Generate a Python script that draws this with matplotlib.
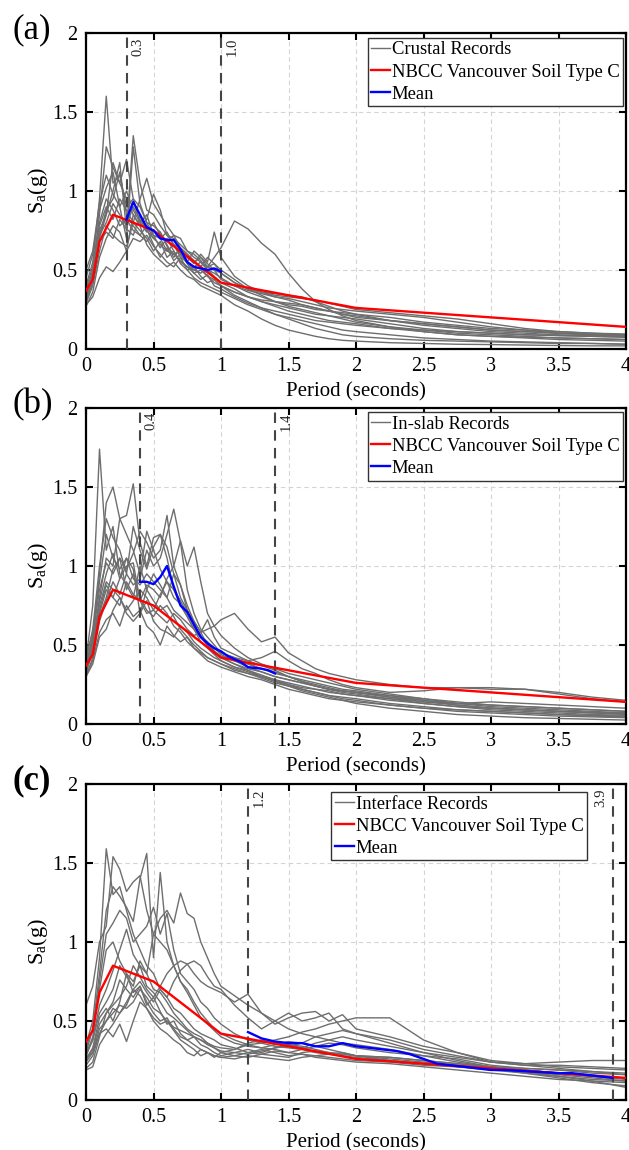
"""Response spectra of the selected ground motions vs NBCC Vancouver (Soil C).

Three panels: (a) crustal, (b) in-slab, (c) interface records, each with
the NBCC target spectrum, the mean over the scaling range, and the range
bounds marked as dashed lines.
"""
import matplotlib
matplotlib.use('Agg')
import matplotlib.pyplot as plt
from matplotlib.ticker import MultipleLocator, FuncFormatter

plt.rcParams['font.family'] = ['Liberation Serif', 'DejaVu Serif']
plt.rcParams['mathtext.fontset'] = 'custom'
plt.rcParams['mathtext.rm'] = 'Liberation Serif'
plt.rcParams['mathtext.it'] = 'Liberation Serif:italic'

# ── periods the record spectra are read at ──
PERIOD = [0.0, 0.05, 0.1, 0.15, 0.2, 0.25, 0.3, 0.35, 0.4, 0.45, 0.5, 0.55,
          0.6, 0.65, 0.7, 0.75, 0.8, 0.85, 0.9, 0.95, 1.0, 1.1, 1.2, 1.3,
          1.4, 1.5, 1.6, 1.7, 1.8, 1.9, 2.0, 2.25, 2.5, 2.75, 3.0, 3.25,
          3.5, 3.75, 4.0]

# ── NBCC 2015 Vancouver, site class C ──
NBCC_T = [0.0, 0.05, 0.1, 0.2, 0.5, 1.0, 2.0, 5.0]
NBCC_SA = [0.37, 0.44, 0.68, 0.85, 0.75, 0.42, 0.26, 0.08]

# ── (a) crustal ──
CRUSTAL = [
    [0.40, 0.55, 0.95, 1.60, 1.05, 1.10, 0.90, 0.95, 0.80, 0.85, 0.72, 0.70, 0.62, 0.66, 0.58, 0.55, 0.52, 0.55, 0.50, 0.46,
     0.42, 0.38, 0.33, 0.30, 0.27, 0.24, 0.22, 0.20, 0.18, 0.17, 0.16, 0.13, 0.11, 0.09, 0.08, 0.07, 0.06, 0.055, 0.05],
    [0.35, 0.50, 0.85, 1.28, 1.15, 1.05, 1.20, 0.95, 0.90, 0.80, 0.78, 0.74, 0.65, 0.60, 0.62, 0.55, 0.50, 0.52, 0.46, 0.44,
     0.40, 0.36, 0.33, 0.30, 0.28, 0.26, 0.24, 0.22, 0.21, 0.20, 0.19, 0.16, 0.13, 0.11, 0.10, 0.09, 0.085, 0.08, 0.075],
    [0.30, 0.42, 0.70, 0.85, 1.00, 1.18, 0.75, 1.35, 1.05, 0.88, 0.85, 0.78, 0.72, 0.66, 0.64, 0.60, 0.55, 0.58, 0.52, 0.50,
     0.48, 0.42, 0.38, 0.36, 0.35, 0.34, 0.33, 0.30, 0.27, 0.24, 0.22, 0.18, 0.15, 0.13, 0.11, 0.10, 0.09, 0.085, 0.08],
    [0.32, 0.45, 0.72, 0.80, 0.92, 0.85, 0.78, 0.90, 0.82, 0.75, 0.70, 0.66, 0.62, 0.60, 0.56, 0.52, 0.50, 0.48, 0.52, 0.58,
     0.64, 0.81, 0.76, 0.67, 0.60, 0.48, 0.38, 0.30, 0.25, 0.21, 0.18, 0.14, 0.11, 0.09, 0.08, 0.075, 0.07, 0.065, 0.06],
    [0.28, 0.33, 0.45, 0.52, 0.49, 0.55, 0.62, 0.70, 0.68, 0.72, 0.65, 0.60, 0.55, 0.52, 0.58, 0.50, 0.45, 0.42, 0.40, 0.38,
     0.36, 0.32, 0.28, 0.25, 0.22, 0.20, 0.18, 0.16, 0.14, 0.12, 0.11, 0.09, 0.07, 0.06, 0.05, 0.045, 0.04, 0.035, 0.03],
    [0.36, 0.48, 0.78, 0.90, 0.82, 0.95, 0.88, 0.80, 0.95, 1.08, 0.92, 0.85, 0.78, 0.72, 0.70, 0.62, 0.60, 0.56, 0.50, 0.48,
     0.45, 0.40, 0.36, 0.33, 0.30, 0.28, 0.27, 0.25, 0.24, 0.23, 0.22, 0.20, 0.17, 0.15, 0.13, 0.12, 0.11, 0.10, 0.09],
    [0.33, 0.46, 0.75, 0.85, 1.18, 1.05, 0.95, 0.85, 0.78, 0.82, 0.98, 0.88, 0.72, 0.70, 0.66, 0.62, 0.58, 0.55, 0.52, 0.54,
     0.50, 0.44, 0.38, 0.34, 0.30, 0.27, 0.25, 0.23, 0.21, 0.19, 0.17, 0.14, 0.12, 0.10, 0.09, 0.08, 0.07, 0.065, 0.06],
    [0.38, 0.52, 0.80, 0.95, 0.88, 0.78, 0.82, 0.75, 0.72, 0.68, 0.75, 0.70, 0.74, 0.66, 0.60, 0.55, 0.62, 0.58, 0.54, 0.50,
     0.44, 0.40, 0.37, 0.35, 0.33, 0.32, 0.30, 0.28, 0.26, 0.25, 0.24, 0.22, 0.20, 0.17, 0.14, 0.12, 0.10, 0.09, 0.085],
    [0.29, 0.40, 0.62, 0.78, 0.72, 0.68, 0.65, 0.80, 0.75, 0.70, 0.62, 0.68, 0.58, 0.62, 0.54, 0.50, 0.52, 0.46, 0.42, 0.44,
     0.40, 0.34, 0.30, 0.26, 0.22, 0.19, 0.16, 0.13, 0.11, 0.09, 0.08, 0.065, 0.055, 0.05, 0.045, 0.04, 0.035, 0.035, 0.03],
    [0.45, 0.60, 0.88, 1.02, 1.12, 0.90, 0.70, 1.28, 0.92, 0.80, 0.72, 0.64, 0.70, 0.62, 0.55, 0.52, 0.48, 0.50, 0.46, 0.42,
     0.40, 0.36, 0.33, 0.31, 0.30, 0.29, 0.28, 0.26, 0.24, 0.22, 0.20, 0.18, 0.16, 0.14, 0.12, 0.11, 0.10, 0.09, 0.085],
    [0.31, 0.44, 0.68, 0.74, 0.70, 0.82, 0.76, 0.72, 0.84, 0.76, 0.66, 0.58, 0.64, 0.56, 0.60, 0.54, 0.48, 0.44, 0.47, 0.40,
     0.38, 0.33, 0.29, 0.26, 0.24, 0.22, 0.20, 0.18, 0.17, 0.16, 0.15, 0.13, 0.12, 0.11, 0.10, 0.09, 0.085, 0.08, 0.075],
    [0.34, 0.47, 0.72, 0.88, 0.95, 1.12, 0.85, 0.78, 0.72, 0.78, 0.70, 0.74, 0.66, 0.58, 0.64, 0.58, 0.54, 0.60, 0.55, 0.74,
     0.58, 0.46, 0.40, 0.36, 0.33, 0.31, 0.28, 0.26, 0.24, 0.22, 0.21, 0.18, 0.16, 0.14, 0.12, 0.11, 0.10, 0.095, 0.09],
    [0.27, 0.36, 0.58, 0.70, 0.78, 0.74, 0.62, 0.85, 0.78, 0.66, 0.60, 0.56, 0.52, 0.55, 0.50, 0.46, 0.44, 0.40, 0.38, 0.36,
     0.34, 0.28, 0.24, 0.19, 0.15, 0.12, 0.10, 0.08, 0.065, 0.055, 0.05, 0.04, 0.035, 0.03, 0.028, 0.025, 0.022, 0.02, 0.02],
    [0.50, 0.62, 0.92, 1.10, 0.98, 0.90, 1.00, 0.88, 0.80, 0.74, 0.80, 0.72, 0.68, 0.72, 0.64, 0.60, 0.56, 0.52, 0.58, 0.54,
     0.48, 0.42, 0.38, 0.36, 0.34, 0.33, 0.32, 0.31, 0.29, 0.27, 0.25, 0.23, 0.21, 0.19, 0.16, 0.13, 0.11, 0.10, 0.095],
]
MEAN_A_T = [0.30, 0.35, 0.40, 0.45, 0.50, 0.55, 0.60, 0.65, 0.70, 0.75, 0.80, 0.85, 0.90, 0.95, 1.00]
MEAN_A_SA = [0.82, 0.93, 0.85, 0.77, 0.75, 0.70, 0.69, 0.69, 0.63, 0.55, 0.52, 0.51, 0.50, 0.51, 0.49]

# ── (b) in-slab ──
INSLAB = [
    [0.40, 0.75, 1.74, 1.10, 1.25, 0.95, 0.88, 0.80, 1.00, 0.85, 0.78, 0.72, 0.75, 0.68, 0.60, 0.55, 0.50, 0.46, 0.42, 0.40,
     0.38, 0.35, 0.32, 0.30, 0.28, 0.25, 0.22, 0.20, 0.18, 0.17, 0.16, 0.13, 0.11, 0.09, 0.08, 0.07, 0.06, 0.055, 0.05],
    [0.35, 0.55, 0.95, 1.40, 1.50, 1.30, 1.20, 1.10, 0.95, 1.22, 1.10, 0.98, 0.90, 0.80, 0.76, 0.68, 0.60, 0.55, 0.50, 0.45,
     0.42, 0.38, 0.34, 0.31, 0.28, 0.26, 0.24, 0.22, 0.20, 0.19, 0.18, 0.15, 0.13, 0.11, 0.10, 0.09, 0.08, 0.075, 0.07],
    [0.32, 0.48, 0.80, 1.05, 1.00, 1.30, 1.32, 1.52, 1.15, 1.00, 1.18, 1.20, 1.12, 0.95, 0.80, 0.72, 0.65, 0.58, 0.50, 0.46,
     0.43, 0.40, 0.38, 0.35, 0.33, 0.30, 0.28, 0.26, 0.24, 0.22, 0.21, 0.18, 0.15, 0.12, 0.10, 0.09, 0.08, 0.07, 0.06],
    [0.30, 0.42, 0.65, 0.78, 0.90, 0.82, 0.95, 0.88, 0.92, 1.10, 1.00, 1.05, 1.20, 1.36, 1.15, 0.85, 0.70, 0.60, 0.55, 0.50,
     0.45, 0.42, 0.38, 0.35, 0.32, 0.30, 0.27, 0.25, 0.23, 0.21, 0.20, 0.17, 0.14, 0.12, 0.10, 0.09, 0.08, 0.07, 0.065],
    [0.38, 0.55, 0.85, 1.02, 0.95, 1.05, 0.98, 1.08, 1.22, 1.15, 1.05, 1.10, 1.32, 1.00, 0.88, 0.72, 0.62, 0.55, 0.52, 0.46,
     0.42, 0.38, 0.35, 0.33, 0.30, 0.28, 0.26, 0.24, 0.22, 0.21, 0.20, 0.18, 0.16, 0.14, 0.12, 0.11, 0.10, 0.09, 0.08],
    [0.34, 0.48, 0.70, 0.85, 0.80, 0.75, 0.90, 0.82, 0.78, 0.88, 0.85, 0.80, 0.92, 1.00, 1.16, 1.00, 1.12, 0.90, 0.70, 0.62,
     0.56, 0.48, 0.42, 0.38, 0.35, 0.32, 0.30, 0.28, 0.26, 0.24, 0.22, 0.19, 0.16, 0.13, 0.11, 0.10, 0.09, 0.08, 0.07],
    [0.31, 0.40, 0.58, 0.66, 0.70, 0.62, 0.75, 0.68, 0.72, 0.62, 0.58, 0.50, 0.62, 0.56, 0.52, 0.55, 0.48, 0.45, 0.42, 0.40,
     0.38, 0.34, 0.32, 0.29, 0.26, 0.24, 0.22, 0.20, 0.18, 0.16, 0.15, 0.12, 0.10, 0.08, 0.07, 0.06, 0.05, 0.045, 0.04],
    [0.36, 0.50, 0.75, 0.90, 0.85, 0.80, 0.72, 0.78, 0.85, 0.80, 0.72, 0.68, 0.64, 0.70, 0.66, 0.60, 0.56, 0.58, 0.60, 0.62,
     0.66, 0.70, 0.60, 0.52, 0.55, 0.45, 0.40, 0.35, 0.32, 0.30, 0.28, 0.25, 0.23, 0.23, 0.22, 0.22, 0.19, 0.16, 0.14],
    [0.42, 0.58, 0.90, 1.20, 1.05, 0.98, 1.05, 0.92, 0.88, 0.95, 0.90, 0.85, 0.80, 0.72, 0.68, 0.64, 0.60, 0.55, 0.50, 0.48,
     0.45, 0.42, 0.40, 0.42, 0.46, 0.40, 0.35, 0.32, 0.28, 0.25, 0.23, 0.20, 0.21, 0.23, 0.23, 0.22, 0.20, 0.17, 0.15],
    [0.33, 0.45, 0.68, 0.80, 0.98, 1.05, 0.85, 0.95, 0.80, 0.72, 0.68, 0.75, 0.70, 0.62, 0.58, 0.52, 0.48, 0.44, 0.40, 0.38,
     0.36, 0.33, 0.30, 0.28, 0.25, 0.22, 0.20, 0.18, 0.16, 0.15, 0.14, 0.12, 0.10, 0.09, 0.08, 0.07, 0.06, 0.05, 0.045],
    [0.37, 0.52, 0.78, 0.95, 1.08, 0.92, 1.00, 1.02, 0.78, 0.70, 0.72, 0.82, 0.90, 0.85, 0.75, 0.68, 0.60, 0.52, 0.48, 0.44,
     0.40, 0.36, 0.34, 0.30, 0.27, 0.25, 0.23, 0.22, 0.21, 0.19, 0.18, 0.16, 0.14, 0.13, 0.14, 0.13, 0.12, 0.11, 0.10],
    [0.30, 0.38, 0.55, 0.60, 0.72, 0.80, 0.70, 0.65, 0.70, 0.78, 0.65, 0.60, 0.58, 0.55, 0.62, 0.58, 0.52, 0.48, 0.45, 0.42,
     0.40, 0.36, 0.33, 0.30, 0.27, 0.24, 0.21, 0.19, 0.17, 0.15, 0.13, 0.10, 0.08, 0.06, 0.05, 0.04, 0.035, 0.03, 0.025],
    [0.40, 0.60, 1.00, 1.30, 1.18, 1.10, 0.95, 1.25, 1.10, 0.98, 1.12, 1.20, 1.05, 0.85, 0.78, 0.70, 0.62, 0.56, 0.52, 0.48,
     0.44, 0.40, 0.36, 0.33, 0.30, 0.28, 0.26, 0.24, 0.22, 0.21, 0.20, 0.17, 0.15, 0.13, 0.12, 0.11, 0.10, 0.09, 0.08],
    [0.35, 0.48, 0.72, 0.88, 0.80, 0.92, 1.05, 0.98, 0.70, 0.85, 0.95, 0.88, 0.80, 0.95, 0.88, 0.75, 0.65, 0.58, 0.66, 0.55,
     0.48, 0.44, 0.40, 0.37, 0.34, 0.30, 0.27, 0.24, 0.22, 0.20, 0.19, 0.16, 0.13, 0.11, 0.09, 0.08, 0.07, 0.06, 0.055],
]
MEAN_B_T = [0.40, 0.45, 0.50, 0.55, 0.60, 0.65, 0.70, 0.75, 0.80, 0.85, 0.90, 0.95, 1.00, 1.05, 1.10, 1.15, 1.20,
            1.25, 1.30, 1.35, 1.40]
MEAN_B_SA = [0.90, 0.90, 0.885, 0.93, 1.00, 0.87, 0.75, 0.71, 0.63, 0.55, 0.51, 0.48, 0.46, 0.43, 0.41, 0.39, 0.36,
             0.355, 0.35, 0.34, 0.32]

# ── (c) interface ──
INTERFACE = [
    [0.35, 0.50, 0.90, 1.59, 1.30, 1.35, 1.20, 1.05, 0.95, 0.85, 0.80, 0.70, 0.65, 0.58, 0.55, 0.50, 0.45, 0.42, 0.40, 0.38,
     0.35, 0.33, 0.30, 0.32, 0.30, 0.28, 0.29, 0.27, 0.26, 0.25, 0.24, 0.23, 0.21, 0.19, 0.17, 0.15, 0.13, 0.12, 0.11],
    [0.60, 0.72, 1.00, 1.10, 1.54, 1.46, 1.32, 1.38, 1.42, 1.20, 1.05, 1.00, 0.95, 0.85, 0.75, 0.70, 0.62, 0.55, 0.50, 0.45,
     0.42, 0.38, 0.35, 0.33, 0.32, 0.30, 0.29, 0.28, 0.27, 0.26, 0.25, 0.24, 0.22, 0.21, 0.20, 0.19, 0.17, 0.15, 0.14],
    [0.30, 0.45, 0.80, 1.20, 1.35, 1.29, 1.22, 1.13, 1.40, 1.56, 0.90, 1.44, 1.00, 0.85, 0.75, 0.68, 0.60, 0.52, 0.48, 0.44,
     0.40, 0.36, 0.34, 0.33, 0.35, 0.37, 0.36, 0.34, 0.32, 0.30, 0.28, 0.27, 0.25, 0.23, 0.21, 0.20, 0.19, 0.17, 0.16],
    [0.28, 0.38, 0.55, 0.62, 0.70, 0.85, 0.78, 0.72, 0.88, 0.80, 1.05, 1.15, 1.20, 1.12, 1.31, 1.18, 1.15, 1.00, 0.90, 0.80,
     0.72, 0.66, 0.60, 0.55, 0.50, 0.45, 0.42, 0.40, 0.38, 0.36, 0.35, 0.32, 0.28, 0.24, 0.21, 0.19, 0.17, 0.15, 0.13],
    [0.25, 0.32, 0.48, 0.55, 0.60, 0.65, 0.72, 0.85, 0.78, 0.70, 0.65, 0.72, 0.80, 0.85, 0.88, 0.86, 0.80, 0.75, 0.72, 0.70,
     0.68, 0.62, 0.67, 0.55, 0.48, 0.52, 0.55, 0.56, 0.50, 0.54, 0.45, 0.40, 0.34, 0.30, 0.25, 0.23, 0.21, 0.20, 0.19],
    [0.22, 0.28, 0.42, 0.50, 0.55, 0.60, 0.58, 0.62, 0.70, 0.65, 0.58, 0.55, 0.50, 0.46, 0.44, 0.42, 0.40, 0.38, 0.36, 0.34,
     0.33, 0.32, 0.35, 0.36, 0.38, 0.40, 0.43, 0.45, 0.48, 0.50, 0.52, 0.52, 0.38, 0.30, 0.24, 0.22, 0.22, 0.21, 0.20],
    [0.20, 0.24, 0.40, 0.55, 0.62, 0.76, 0.70, 0.65, 0.72, 0.62, 0.55, 0.50, 0.52, 0.45, 0.40, 0.38, 0.35, 0.32, 0.30, 0.28,
     0.27, 0.28, 0.30, 0.29, 0.31, 0.30, 0.32, 0.34, 0.36, 0.35, 0.33, 0.30, 0.28, 0.26, 0.22, 0.20, 0.19, 0.18, 0.17],
    [0.27, 0.30, 0.42, 0.45, 0.40, 0.48, 0.37, 0.50, 0.62, 0.58, 0.52, 0.48, 0.50, 0.44, 0.38, 0.35, 0.32, 0.28, 0.30, 0.27,
     0.30, 0.28, 0.27, 0.29, 0.28, 0.27, 0.30, 0.31, 0.30, 0.29, 0.28, 0.27, 0.25, 0.23, 0.21, 0.19, 0.17, 0.15, 0.14],
    [0.26, 0.33, 0.52, 0.58, 0.50, 0.62, 0.80, 0.68, 0.72, 0.60, 0.65, 0.56, 0.48, 0.50, 0.42, 0.38, 0.40, 0.35, 0.33, 0.30,
     0.28, 0.30, 0.32, 0.30, 0.33, 0.35, 0.34, 0.32, 0.30, 0.29, 0.28, 0.26, 0.24, 0.22, 0.20, 0.18, 0.16, 0.14, 0.12],
    [0.30, 0.38, 0.60, 0.70, 0.82, 0.95, 1.08, 0.92, 0.85, 0.80, 0.70, 0.68, 0.62, 0.55, 0.50, 0.45, 0.42, 0.40, 0.36, 0.33,
     0.30, 0.32, 0.36, 0.38, 0.36, 0.35, 0.33, 0.36, 0.38, 0.40, 0.38, 0.34, 0.30, 0.27, 0.24, 0.22, 0.20, 0.18, 0.16],
    [0.28, 0.40, 0.75, 1.05, 1.12, 1.20, 1.15, 1.00, 1.05, 1.10, 1.22, 1.05, 1.18, 0.95, 0.80, 0.75, 0.70, 0.62, 0.58, 0.52,
     0.48, 0.42, 0.38, 0.36, 0.34, 0.33, 0.32, 0.30, 0.29, 0.28, 0.27, 0.25, 0.23, 0.21, 0.19, 0.17, 0.15, 0.13, 0.12],
    [0.24, 0.30, 0.45, 0.50, 0.58, 0.55, 0.62, 0.70, 0.75, 0.68, 0.62, 0.70, 0.65, 0.75, 0.82, 0.86, 0.88, 0.85, 0.78, 0.72,
     0.70, 0.60, 0.52, 0.45, 0.50, 0.55, 0.50, 0.52, 0.55, 0.45, 0.42, 0.38, 0.32, 0.28, 0.24, 0.23, 0.24, 0.25, 0.25],
    [0.19, 0.21, 0.35, 0.42, 0.48, 0.55, 0.60, 0.70, 0.66, 0.58, 0.50, 0.45, 0.42, 0.38, 0.35, 0.30, 0.28, 0.32, 0.30, 0.28,
     0.27, 0.26, 0.28, 0.27, 0.26, 0.25, 0.27, 0.28, 0.29, 0.30, 0.28, 0.25, 0.23, 0.22, 0.20, 0.17, 0.14, 0.11, 0.09],
    [0.33, 0.45, 0.70, 0.95, 1.00, 0.88, 0.80, 0.75, 0.85, 0.72, 0.68, 0.62, 0.55, 0.52, 0.48, 0.44, 0.40, 0.38, 0.35, 0.33,
     0.31, 0.30, 0.29, 0.31, 0.33, 0.34, 0.36, 0.40, 0.42, 0.44, 0.42, 0.36, 0.30, 0.25, 0.21, 0.18, 0.15, 0.12, 0.08],
]
MEAN_C_T = [1.2, 1.3, 1.4, 1.5, 1.6, 1.7, 1.8, 1.9, 2.0, 2.1, 2.2, 2.3, 2.4, 2.5, 2.6, 2.7, 2.8, 2.9, 3.0,
            3.1, 3.2, 3.3, 3.4, 3.5, 3.6, 3.7, 3.8, 3.9]
MEAN_C_SA = [0.43, 0.39, 0.37, 0.36, 0.36, 0.34, 0.34, 0.36, 0.34, 0.33, 0.32, 0.31, 0.29, 0.26, 0.23, 0.22,
             0.21, 0.20, 0.19, 0.19, 0.185, 0.18, 0.175, 0.17, 0.17, 0.16, 0.15, 0.14]

GRAY = '#6e6e6e'
VLINE = '#454545'


def draw_panel(ax, records, rec_label, mean_t, mean_sa, bounds, leg_anchor):
    for i, rec in enumerate(records):
        ax.plot(PERIOD, rec, color=GRAY, lw=1.0, zorder=2,
                label=rec_label if i == 0 else None)
    ax.plot(NBCC_T, NBCC_SA, color='red', lw=1.7, zorder=4,
            label='NBCC Vancouver Soil Type C')
    ax.plot(mean_t, mean_sa, color='blue', lw=1.7, zorder=5, label='Mean')

    # scaling range bounds
    for x, side in bounds:
        ax.axvline(x, color=VLINE, lw=1.5, ls=(0, (5, 3.5)), zorder=3)
        dx = 3.5 if side == 'right' else -3.5
        ax.annotate(f'{x:.1f}', xy=(x, 1), xycoords=('data', 'axes fraction'),
                    xytext=(dx, -3), textcoords='offset points', rotation=90,
                    ha='left' if side == 'right' else 'right', va='top',
                    fontsize=10.5, color='#222222')

    ax.set_xlim(0, 4)
    ax.set_ylim(0, 2)
    ax.xaxis.set_major_locator(MultipleLocator(0.5))
    ax.yaxis.set_major_locator(MultipleLocator(0.5))
    fmt = FuncFormatter(lambda v, p: f'{v:g}')
    ax.xaxis.set_major_formatter(fmt)
    ax.yaxis.set_major_formatter(fmt)
    ax.tick_params(direction='in', length=5, width=1.5, labelsize=14.5,
                   top=True, right=True, pad=6)
    for s in ax.spines.values():
        s.set_linewidth(1.6)
    ax.grid(True, color='#d4d4d4', ls=(0, (4, 3)), lw=0.8, zorder=0)
    ax.set_axisbelow(True)
    ax.set_xlabel('Period (seconds)', fontsize=15, labelpad=4)
    ax.set_ylabel(r'$\mathrm{S_a(g)}$', fontsize=16, labelpad=2)

    leg = ax.legend(loc='upper right', bbox_to_anchor=leg_anchor,
                    borderaxespad=0, fontsize=13.4, handlelength=1.0,
                    handletextpad=0.1, labelspacing=0.27, borderpad=0.2,
                    fancybox=False, framealpha=1, edgecolor='#333333')
    leg.get_frame().set_linewidth(1.0)


def main():
    fig = plt.figure(figsize=(6.29, 11.5), dpi=100)
    left, width, height = 86 / 629, 540 / 629, 316 / 1150
    panels = [
        ('(a)', 'normal', 1 - 349 / 1150, CRUSTAL, 'Crustal Records',
         MEAN_A_T, MEAN_A_SA, [(0.3, 'right'), (1.0, 'right')], (0.995, 0.985)),
        ('(b)', 'normal', 1 - 724 / 1150, INSLAB, 'In-slab Records',
         MEAN_B_T, MEAN_B_SA, [(0.4, 'right'), (1.4, 'right')], (0.995, 0.987)),
        ('(c)', 'bold', 1 - 1100 / 1150, INTERFACE, 'Interface Records',
         MEAN_C_T, MEAN_C_SA, [(1.2, 'right'), (3.9, 'left')], (0.928, 0.975)),
    ]
    for tag, weight, bottom, recs, lab, mt, ms, bounds, anchor in panels:
        ax = fig.add_axes([left, bottom, width, height])
        draw_panel(ax, recs, lab, mt, ms, bounds, anchor)
        fig.text(12 / 629, bottom + height + 3 / 1150, tag, fontsize=25,
                 fontweight=weight, ha='left', va='center')

    fig.savefig('out.png', dpi=100)


if __name__ == '__main__':
    main()
